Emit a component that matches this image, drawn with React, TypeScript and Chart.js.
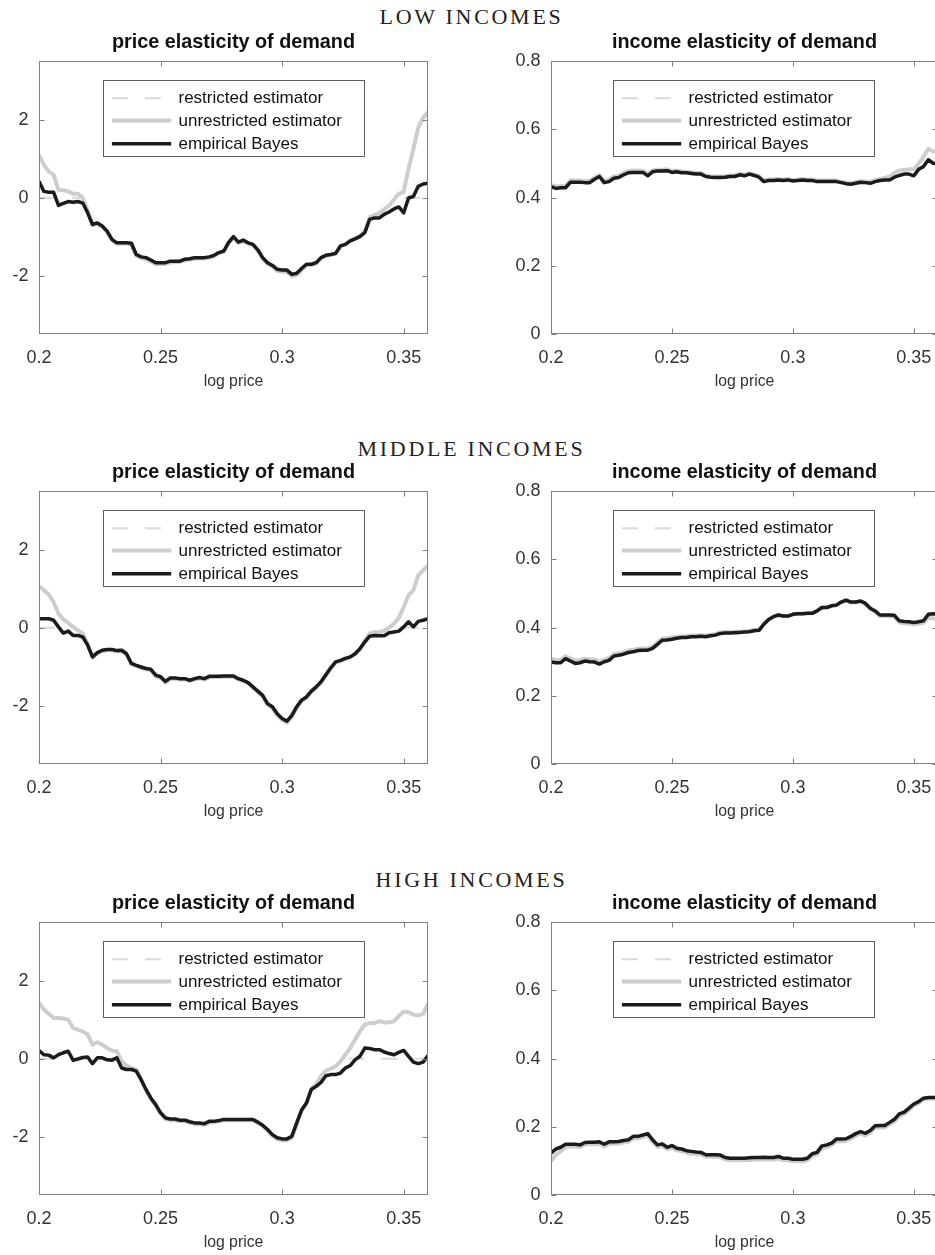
import { useEffect, useRef } from "react";
import { Chart, registerables } from "chart.js";

Chart.register(...registerables);

// ---------- data ----------
const LOG_PRICE = [
  0.2, 0.202, 0.204, 0.206, 0.208, 0.21, 0.212, 0.214, 0.216, 0.218,
  0.22, 0.222, 0.224, 0.226, 0.228, 0.23, 0.232, 0.234, 0.236, 0.238,
  0.24, 0.242, 0.244, 0.246, 0.248, 0.25, 0.252, 0.254, 0.256, 0.258,
  0.26, 0.262, 0.264, 0.266, 0.268, 0.27, 0.272, 0.274, 0.276, 0.278,
  0.28, 0.282, 0.284, 0.286, 0.288, 0.29, 0.292, 0.294, 0.296, 0.298,
  0.3, 0.302, 0.304, 0.306, 0.308, 0.31, 0.312, 0.314, 0.316, 0.318,
  0.32, 0.322, 0.324, 0.326, 0.328, 0.33, 0.332, 0.334, 0.336, 0.338,
  0.34, 0.342, 0.344, 0.346, 0.348, 0.35, 0.352, 0.354, 0.356, 0.358,
  0.36,
];

// restricted estimator of price elasticity (negativity imposed)
const LOW_PRICE_RESTR = [
  0, 0, 0, 0, 0, 0, 0, 0, 0, -0.01,
  -0.32, -0.7, -0.67, -0.75, -0.88, -1.09, -1.18, -1.18, -1.18, -1.2,
  -1.49, -1.55, -1.58, -1.64, -1.71, -1.71, -1.7, -1.66, -1.66, -1.65,
  -1.61, -1.59, -1.57, -1.56, -1.56, -1.54, -1.5, -1.43, -1.39, -1.17,
  -1.02, -1.16, -1.11, -1.18, -1.22, -1.36, -1.57, -1.7, -1.77, -1.88,
  -1.9, -1.91, -2.02, -1.99, -1.86, -1.74, -1.73, -1.69, -1.56, -1.5,
  -1.47, -1.44, -1.25, -1.2, -1.11, -1.05, -0.98, -0.88, -0.5, -0.45,
  -0.4, -0.3, -0.2, -0.05, 0, 0, 0, 0, 0, 0,
  0,
];
const LOW_PRICE_UNR = [
  1.1, 0.84, 0.67, 0.59, 0.2, 0.19, 0.16, 0.1, 0.1, -0.01,
  -0.32, -0.7, -0.67, -0.75, -0.88, -1.09, -1.18, -1.18, -1.18, -1.2,
  -1.49, -1.55, -1.58, -1.64, -1.71, -1.71, -1.7, -1.66, -1.66, -1.65,
  -1.61, -1.59, -1.57, -1.56, -1.56, -1.54, -1.5, -1.43, -1.39, -1.17,
  -1.02, -1.16, -1.11, -1.18, -1.22, -1.36, -1.57, -1.7, -1.77, -1.88,
  -1.9, -1.91, -2.02, -1.99, -1.86, -1.74, -1.73, -1.69, -1.56, -1.5,
  -1.47, -1.44, -1.25, -1.2, -1.11, -1.05, -0.98, -0.88, -0.5, -0.45,
  -0.4, -0.3, -0.2, -0.05, 0.1, 0.15, 0.75, 1.25, 1.8, 2.05,
  2.2,
];
const LOW_PRICE_EB = [
  0.42, 0.16, 0.14, 0.14, -0.2, -0.15, -0.1, -0.12, -0.1, -0.14,
  -0.39, -0.69, -0.65, -0.73, -0.86, -1.07, -1.16, -1.16, -1.16, -1.17,
  -1.46, -1.52, -1.54, -1.6, -1.67, -1.67, -1.67, -1.63, -1.63, -1.63,
  -1.58, -1.57, -1.54, -1.54, -1.54, -1.52, -1.48, -1.41, -1.37, -1.15,
  -1.0, -1.14, -1.09, -1.16, -1.2, -1.34, -1.54, -1.67, -1.74, -1.84,
  -1.86, -1.86, -1.97, -1.94, -1.82, -1.71, -1.71, -1.67, -1.54, -1.48,
  -1.46, -1.43, -1.24, -1.2, -1.11, -1.06, -1.0, -0.9, -0.56, -0.52,
  -0.52, -0.43, -0.37, -0.29, -0.24, -0.39, -0.01, 0.03, 0.29, 0.35,
  0.37,
];

const LOW_INCOME_UNR = [
  0.437, 0.433, 0.434, 0.435, 0.45, 0.45, 0.45, 0.449, 0.449, 0.459,
  0.466, 0.449, 0.452, 0.462, 0.464, 0.472, 0.478, 0.479, 0.479, 0.479,
  0.469, 0.48, 0.482, 0.482, 0.483, 0.478, 0.48, 0.477, 0.476, 0.474,
  0.472, 0.472, 0.465, 0.463, 0.462, 0.462, 0.463, 0.465, 0.465, 0.47,
  0.467, 0.472, 0.468, 0.463, 0.45, 0.453, 0.453, 0.455, 0.453, 0.455,
  0.452, 0.453, 0.455, 0.453, 0.453, 0.45, 0.45, 0.45, 0.45, 0.45,
  0.447, 0.444, 0.442, 0.445, 0.448, 0.447, 0.446, 0.451, 0.455, 0.458,
  0.462, 0.473, 0.479, 0.481, 0.483, 0.483, 0.5, 0.52, 0.543, 0.535,
  0.535,
];
const LOW_INCOME_EB = [
  0.432, 0.427, 0.429, 0.429, 0.445, 0.445, 0.445, 0.444, 0.444, 0.454,
  0.462, 0.444, 0.447, 0.457, 0.459, 0.467, 0.473, 0.474, 0.474, 0.474,
  0.464, 0.476, 0.478, 0.478, 0.479, 0.474, 0.476, 0.473, 0.473, 0.471,
  0.469, 0.469, 0.462, 0.46, 0.459, 0.459, 0.46, 0.462, 0.462, 0.467,
  0.464, 0.469, 0.465, 0.46, 0.447, 0.45, 0.45, 0.452, 0.45, 0.452,
  0.449, 0.45, 0.452, 0.45, 0.45, 0.447, 0.447, 0.447, 0.447, 0.447,
  0.444, 0.441, 0.439, 0.442, 0.445, 0.444, 0.442, 0.447, 0.45, 0.452,
  0.452, 0.46, 0.465, 0.469, 0.469, 0.464, 0.483, 0.491, 0.511, 0.501,
  0.499,
];

const MIDDLE_PRICE_RESTR = [
  0, 0, 0, 0, 0, 0, 0, 0, -0.07, -0.15,
  -0.41, -0.77, -0.66, -0.6, -0.58, -0.58, -0.61, -0.6, -0.69, -0.94,
  -0.99, -1.03, -1.07, -1.09, -1.25, -1.29, -1.41, -1.32, -1.31, -1.33,
  -1.33, -1.37, -1.33, -1.3, -1.33, -1.27, -1.27, -1.27, -1.26, -1.26,
  -1.26, -1.33, -1.37, -1.43, -1.54, -1.66, -1.77, -1.98, -2.06, -2.25,
  -2.37, -2.44, -2.29, -2.06, -1.89, -1.8, -1.65, -1.54, -1.41, -1.23,
  -1.05, -0.9, -0.86, -0.81, -0.77, -0.69, -0.56, -0.33, -0.15, -0.12,
  -0.12, -0.08, 0, 0, 0, 0, 0, 0, 0, 0,
  0,
];
const MIDDLE_PRICE_UNR = [
  1.07, 0.96, 0.85, 0.66, 0.36, 0.21, 0.12, 0.02, -0.07, -0.15,
  -0.41, -0.77, -0.66, -0.6, -0.58, -0.58, -0.61, -0.6, -0.69, -0.94,
  -0.99, -1.03, -1.07, -1.09, -1.25, -1.29, -1.41, -1.32, -1.31, -1.33,
  -1.33, -1.37, -1.33, -1.3, -1.33, -1.27, -1.27, -1.27, -1.26, -1.26,
  -1.26, -1.33, -1.37, -1.43, -1.54, -1.66, -1.77, -1.98, -2.06, -2.25,
  -2.37, -2.44, -2.29, -2.06, -1.89, -1.8, -1.65, -1.54, -1.41, -1.23,
  -1.05, -0.9, -0.86, -0.81, -0.77, -0.69, -0.56, -0.33, -0.15, -0.12,
  -0.12, -0.08, 0.0, 0.1, 0.25, 0.53, 0.83, 0.96, 1.34, 1.47,
  1.6,
];
const MIDDLE_PRICE_EB = [
  0.23, 0.23, 0.23, 0.19, 0.02, -0.14, -0.09, -0.2, -0.2, -0.24,
  -0.45, -0.75, -0.64, -0.58, -0.56, -0.56, -0.59, -0.58, -0.67, -0.92,
  -0.97, -1.01, -1.05, -1.07, -1.22, -1.26, -1.38, -1.29, -1.29, -1.31,
  -1.31, -1.35, -1.31, -1.28, -1.31, -1.25, -1.25, -1.25, -1.24, -1.24,
  -1.24, -1.31, -1.35, -1.41, -1.52, -1.63, -1.74, -1.95, -2.03, -2.21,
  -2.33, -2.4, -2.25, -2.03, -1.86, -1.78, -1.63, -1.52, -1.39, -1.21,
  -1.03, -0.88, -0.84, -0.79, -0.75, -0.67, -0.54, -0.37, -0.22, -0.2,
  -0.21, -0.21, -0.13, -0.11, -0.09, 0.02, 0.15, 0.02, 0.16, 0.19,
  0.23,
];

const MIDDLE_INCOME_UNR = [
  0.309, 0.305, 0.306, 0.316, 0.31, 0.303, 0.305, 0.309, 0.307, 0.306,
  0.3, 0.306, 0.311, 0.323, 0.325, 0.328, 0.333, 0.335, 0.338, 0.339,
  0.339, 0.344, 0.356, 0.368, 0.369, 0.371, 0.373, 0.375, 0.375, 0.377,
  0.377, 0.378, 0.377, 0.379, 0.381, 0.386, 0.387, 0.387, 0.388, 0.389,
  0.389, 0.39, 0.393, 0.394, 0.411, 0.425, 0.433, 0.437, 0.434, 0.434,
  0.439, 0.441, 0.441, 0.442, 0.442, 0.449, 0.459, 0.459, 0.464, 0.466,
  0.475, 0.48, 0.474, 0.474, 0.477, 0.47, 0.455, 0.447, 0.434, 0.434,
  0.433, 0.432, 0.416, 0.413, 0.411, 0.41, 0.411, 0.414, 0.43, 0.427,
  0.426,
];
const MIDDLE_INCOME_EB = [
  0.299, 0.297, 0.297, 0.309, 0.302, 0.295, 0.297, 0.302, 0.3, 0.299,
  0.293, 0.3, 0.304, 0.317, 0.319, 0.322, 0.327, 0.329, 0.333, 0.334,
  0.334, 0.339, 0.351, 0.363, 0.364, 0.366, 0.369, 0.371, 0.371, 0.373,
  0.373, 0.375, 0.373, 0.376, 0.378, 0.383, 0.384, 0.384, 0.385, 0.386,
  0.387, 0.388, 0.391, 0.392, 0.41, 0.424, 0.432, 0.437, 0.434, 0.434,
  0.439, 0.441, 0.441, 0.442, 0.442, 0.449, 0.459, 0.459, 0.464, 0.466,
  0.475, 0.481, 0.475, 0.475, 0.478, 0.471, 0.457, 0.449, 0.437, 0.437,
  0.437, 0.436, 0.42, 0.418, 0.417, 0.415, 0.417, 0.42, 0.439, 0.441,
  0.439,
];

const HIGH_PRICE_RESTR = [
  0, 0, 0, 0, 0, 0, 0, 0, 0, 0,
  0, 0, 0, 0, 0, 0, 0, -0.07, -0.18, -0.24,
  -0.28, -0.52, -0.81, -1.03, -1.2, -1.41, -1.55, -1.58, -1.58, -1.61,
  -1.61, -1.65, -1.68, -1.68, -1.7, -1.64, -1.63, -1.61, -1.58, -1.58,
  -1.58, -1.58, -1.58, -1.58, -1.58, -1.65, -1.73, -1.85, -1.98, -2.07,
  -2.1, -2.1, -2.03, -1.68, -1.34, -1.15, -0.78, -0.66, -0.45, -0.31,
  -0.26, -0.2, -0.07, 0, 0, 0, 0, 0, 0, 0,
  0, 0, 0, 0, 0, 0, 0, 0, 0, 0,
  0,
];
const HIGH_PRICE_UNR = [
  1.44, 1.26, 1.15, 1.04, 1.04, 1.03, 1.0, 0.79, 0.74, 0.7,
  0.62, 0.36, 0.42, 0.36, 0.27, 0.21, 0.19, -0.07, -0.18, -0.24,
  -0.28, -0.52, -0.81, -1.03, -1.2, -1.41, -1.55, -1.58, -1.58, -1.61,
  -1.61, -1.65, -1.68, -1.68, -1.7, -1.64, -1.63, -1.61, -1.58, -1.58,
  -1.58, -1.58, -1.58, -1.58, -1.58, -1.65, -1.73, -1.85, -1.98, -2.07,
  -2.1, -2.1, -2.03, -1.68, -1.34, -1.15, -0.78, -0.66, -0.45, -0.31,
  -0.26, -0.2, -0.07, 0.1, 0.27, 0.49, 0.7, 0.87, 0.91, 0.91,
  0.96, 0.93, 0.93, 0.96, 1.09, 1.21, 1.19, 1.13, 1.11, 1.15,
  1.41,
];
const HIGH_PRICE_EB = [
  0.21, 0.1, 0.09, 0.02, 0.1, 0.15, 0.19, -0.04, -0.01, 0.03,
  0.04, -0.13, 0.02, 0.02, -0.03, -0.04, 0.02, -0.24, -0.28, -0.28,
  -0.32, -0.54, -0.79, -1.01, -1.18, -1.39, -1.52, -1.55, -1.55, -1.58,
  -1.58, -1.62, -1.65, -1.65, -1.67, -1.61, -1.61, -1.59, -1.56, -1.56,
  -1.56, -1.56, -1.56, -1.56, -1.56, -1.63, -1.71, -1.82, -1.95, -2.03,
  -2.06, -2.06, -1.99, -1.65, -1.32, -1.14, -0.79, -0.71, -0.61, -0.44,
  -0.41, -0.41, -0.37, -0.24, -0.18, -0.03, 0.06, 0.27, 0.26, 0.23,
  0.23, 0.17, 0.13, 0.1, 0.16, 0.21, 0.06, -0.09, -0.13, -0.09,
  0.08,
];

const HIGH_INCOME_UNR = [
  0.099, 0.118, 0.128, 0.141, 0.142, 0.143, 0.141, 0.148, 0.149, 0.149,
  0.15, 0.143, 0.15, 0.15, 0.151, 0.154, 0.156, 0.166, 0.166, 0.17,
  0.174, 0.156, 0.141, 0.144, 0.134, 0.139, 0.131, 0.129, 0.124, 0.122,
  0.12, 0.119, 0.112, 0.112, 0.112, 0.111, 0.104, 0.102, 0.102, 0.102,
  0.102, 0.103, 0.104, 0.104, 0.105, 0.104, 0.104, 0.107, 0.102, 0.102,
  0.099, 0.099, 0.099, 0.102, 0.115, 0.119, 0.138, 0.141, 0.146, 0.158,
  0.158, 0.159, 0.166, 0.174, 0.18, 0.175, 0.183, 0.197, 0.198, 0.198,
  0.207, 0.216, 0.232, 0.238, 0.25, 0.262, 0.27, 0.28, 0.283, 0.283,
  0.283,
];
const HIGH_INCOME_EB = [
  0.123, 0.135, 0.14, 0.149, 0.149, 0.149, 0.147, 0.154, 0.155, 0.155,
  0.156, 0.149, 0.156, 0.156, 0.157, 0.16, 0.162, 0.172, 0.172, 0.176,
  0.18, 0.162, 0.147, 0.15, 0.14, 0.145, 0.137, 0.135, 0.13, 0.128,
  0.126, 0.125, 0.118, 0.118, 0.118, 0.117, 0.11, 0.108, 0.108, 0.108,
  0.108, 0.109, 0.11, 0.11, 0.111, 0.11, 0.11, 0.113, 0.108, 0.108,
  0.105, 0.105, 0.105, 0.108, 0.121, 0.125, 0.144, 0.147, 0.152, 0.164,
  0.164, 0.165, 0.172, 0.18, 0.186, 0.181, 0.189, 0.203, 0.204, 0.204,
  0.213, 0.222, 0.238, 0.243, 0.255, 0.267, 0.274, 0.284, 0.286, 0.286,
  0.286,
];

const X_TICKS = [0.2, 0.25, 0.3, 0.35];
const X_TICK_LABELS = ["0.2", "0.25", "0.3", "0.35"];
const PRICE_Y_TICKS = [-2, 0, 2];
const PRICE_Y_TICK_LABELS = ["-2", "0", "2"];
const INCOME_Y_TICKS = [0, 0.2, 0.4, 0.6, 0.8];
const INCOME_Y_TICK_LABELS = ["0", "0.2", "0.4", "0.6", "0.8"];

const ROW_TITLES = ["LOW INCOMES", "MIDDLE INCOMES", "HIGH INCOMES"];
const PANEL_TITLES = ["price elasticity of demand", "income elasticity of demand"];
const LEGEND_LABELS = ["restricted estimator", "unrestricted estimator", "empirical Bayes"];
const X_TITLE = "log price";

// ---------- styles ----------
const SANS = "'Liberation Sans', Arial, Helvetica, sans-serif";
const SERIF = "'Liberation Serif', 'Times New Roman', serif";
const AXIS_COLOR = "#808080";
const TICK_COLOR = "#333333";
const TITLE_COLOR = "#111111";
const LEGEND_EDGE = "#5e5e5e";
const RESTR_COLOR = "#d9d9d9";
const UNR_COLOR = "#cdcdcd";
const EB_COLOR = "#1b1b1b";
const RESTR_DASH = [16, 17];

type PanelProps = {
  left: number;
  top: number;
  width: number;
  height: number;
  side: number;
  title: string;
  yMin: number;
  yMax: number;
  yTicks: number[];
  yLabels: string[];
  restricted: number[];
  unrestricted: number[];
  eb: number[];
  legendDx: number;
};

function Panel(p: PanelProps) {
  const ref = useRef<HTMLCanvasElement | null>(null);

  useEffect(() => {
    const canvas = ref.current;
    if (!canvas) return;
    const pts = (ys: number[]) => LOG_PRICE.map((x, i) => ({ x, y: ys[i] }));

    const framePlugin = {
      id: "frameAndLegend",
      afterDatasetsDraw(chart: any) {
        const { ctx, chartArea: ca } = chart;
        const xs = chart.scales.x;
        const ys = chart.scales.y;
        const L = Math.round(ca.left) + 0.5;
        const R = Math.round(ca.right) - 0.5;
        const T = Math.round(ca.top) + 0.5;
        const B = Math.round(ca.bottom) - 0.5;
        const tl = 5;
        ctx.save();
        ctx.strokeStyle = AXIS_COLOR;
        ctx.lineWidth = 1;
        ctx.setLineDash([]);
        ctx.strokeRect(L, T, R - L, B - T);
        ctx.beginPath();
        X_TICKS.forEach((v) => {
          const px = Math.round(xs.getPixelForValue(v)) + 0.5;
          ctx.moveTo(px, B);
          ctx.lineTo(px, B - tl);
          ctx.moveTo(px, T);
          ctx.lineTo(px, T + tl);
        });
        p.yTicks.forEach((v) => {
          const py = Math.round(ys.getPixelForValue(v)) + 0.5;
          ctx.moveTo(L, py);
          ctx.lineTo(L + tl, py);
          ctx.moveTo(R, py);
          ctx.lineTo(R - tl, py);
        });
        ctx.stroke();

        // legend box
        const bx = Math.round(ca.left + p.legendDx) + 0.5;
        const by = Math.round(ca.top + 18.7) + 0.5;
        const bw = 261;
        const bh = 76;
        ctx.fillStyle = "#ffffff";
        ctx.fillRect(bx, by, bw, bh);
        ctx.strokeStyle = LEGEND_EDGE;
        ctx.lineWidth = 1;
        ctx.strokeRect(bx, by, bw, bh);
        const rows = [17.7, 40, 63.3];
        const dsets = chart.data.datasets;
        ctx.font = `17px ${SANS}`;
        ctx.textBaseline = "middle";
        ctx.textAlign = "left";
        rows.forEach((ry, i) => {
          const d = dsets[i];
          const yy = by + ry;
          ctx.beginPath();
          ctx.strokeStyle = d.borderColor;
          ctx.lineWidth = d.borderWidth;
          ctx.setLineDash(d.borderDash || []);
          ctx.moveTo(bx + 8.4, yy);
          ctx.lineTo(bx + 67.7, yy);
          ctx.stroke();
          ctx.setLineDash([]);
          ctx.fillStyle = "#111111";
          ctx.fillText(d.label, bx + 75, yy + 0.5);
        });
        ctx.restore();
      },
    };

    const tickCb = (ticks: number[], labels: string[]) => (value: any) => {
      const i = ticks.findIndex((t) => Math.abs(t - Number(value)) < 1e-9);
      return i >= 0 ? labels[i] : "";
    };

    const chart = new Chart(canvas, {
      type: "line",
      data: {
        datasets: [
          {
            label: LEGEND_LABELS[0],
            data: pts(p.restricted),
            borderColor: RESTR_COLOR,
            borderWidth: 2,
            borderDash: RESTR_DASH,
            order: 3,
          },
          {
            label: LEGEND_LABELS[1],
            data: pts(p.unrestricted),
            borderColor: UNR_COLOR,
            borderWidth: 4,
            order: 2,
          },
          {
            label: LEGEND_LABELS[2],
            data: pts(p.eb),
            borderColor: EB_COLOR,
            borderWidth: 3.5,
            order: 1,
          },
        ],
      },
      options: {
        responsive: false,
        animation: false,
        devicePixelRatio: 1,
        events: [],
        layout: { padding: 0 },
        elements: {
          point: { radius: 0, hoverRadius: 0 },
          line: { tension: 0, borderJoinStyle: "round", borderCapStyle: "butt", fill: false },
        },
        plugins: {
          legend: { display: false },
          tooltip: { enabled: false },
          title: {
            display: true,
            text: p.title,
            color: TITLE_COLOR,
            font: { family: SANS, size: 19.8, weight: "bold", lineHeight: 1.2 },
            padding: { top: 10.5, bottom: 7 },
          },
        },
        scales: {
          x: {
            type: "linear",
            min: 0.2,
            max: 0.36,
            afterBuildTicks: (s: any) => {
              s.ticks = X_TICKS.map((v) => ({ value: v }));
            },
            afterFit: (s: any) => {
              s.height = 60;
            },
            grid: { display: false, drawTicks: false },
            border: { display: false },
            ticks: {
              callback: tickCb(X_TICKS, X_TICK_LABELS),
              color: TICK_COLOR,
              font: { family: SANS, size: 18 },
              padding: 13,
              autoSkip: false,
              maxRotation: 0,
              minRotation: 0,
            },
            title: {
              display: true,
              text: X_TITLE,
              color: TICK_COLOR,
              font: { family: SANS, size: 15.8 },
              padding: { top: 0, bottom: 3 },
            },
          },
          y: {
            type: "linear",
            position: "left",
            min: p.yMin,
            max: p.yMax,
            afterBuildTicks: (s: any) => {
              s.ticks = p.yTicks.map((v) => ({ value: v }));
            },
            afterFit: (s: any) => {
              s.width = p.side;
            },
            grid: { display: false, drawTicks: false },
            border: { display: false },
            ticks: {
              callback: tickCb(p.yTicks, p.yLabels),
              color: TICK_COLOR,
              font: { family: SANS, size: 18 },
              padding: 10.5,
              autoSkip: false,
            },
          },
          yR: {
            type: "linear",
            position: "right",
            min: 0,
            max: 1,
            afterFit: (s: any) => {
              s.width = p.side;
            },
            grid: { display: false, drawTicks: false },
            border: { display: false },
            ticks: { display: false },
          },
        },
      } as any,
      plugins: [framePlugin],
    });
    return () => chart.destroy();
  }, []);

  return (
    <canvas
      ref={ref}
      width={p.width}
      height={p.height}
      style={{
        position: "absolute",
        left: p.left,
        top: p.top,
        width: p.width,
        height: p.height,
        display: "block",
      }}
    />
  );
}

const ROWS = [
  { priceR: LOW_PRICE_RESTR, priceU: LOW_PRICE_UNR, priceEB: LOW_PRICE_EB, incU: LOW_INCOME_UNR, incEB: LOW_INCOME_EB },
  { priceR: MIDDLE_PRICE_RESTR, priceU: MIDDLE_PRICE_UNR, priceEB: MIDDLE_PRICE_EB, incU: MIDDLE_INCOME_UNR, incEB: MIDDLE_INCOME_EB },
  { priceR: HIGH_PRICE_RESTR, priceU: HIGH_PRICE_UNR, priceEB: HIGH_PRICE_EB, incU: HIGH_INCOME_UNR, incEB: HIGH_INCOME_EB },
];
const CANVAS_TOPS = [20, 450, 881];
const ROW_TITLE_TOPS = [5.6, 438.1, 868.6];

export default function App() {
  return (
    <div
      style={{
        position: "absolute",
        left: 0,
        top: 0,
        width: 935,
        height: 1255,
        overflow: "hidden",
        background: "#ffffff",
      }}
    >
      {ROW_TITLES.map((t, i) => (
        <div
          key={t}
          style={{
            position: "absolute",
            left: 1,
            top: ROW_TITLE_TOPS[i],
            width: 941,
            textAlign: "center",
            fontFamily: SERIF,
            fontSize: 22,
            lineHeight: "22px",
            letterSpacing: "2.7px",
            color: "#222222",
            whiteSpace: "nowrap",
          }}
        >
          {t}
        </div>
      ))}
      {ROWS.map((r, i) => (
        <Panel
          key={"p" + i}
          left={0}
          top={CANVAS_TOPS[i]}
          width={467}
          height={374}
          side={39}
          title={PANEL_TITLES[0]}
          yMin={-3.5}
          yMax={3.5}
          yTicks={PRICE_Y_TICKS}
          yLabels={PRICE_Y_TICK_LABELS}
          restricted={r.priceR}
          unrestricted={r.priceU}
          eb={r.priceEB}
          legendDx={64.3}
        />
      ))}
      {ROWS.map((r, i) => (
        <Panel
          key={"i" + i}
          left={506}
          top={CANVAS_TOPS[i]}
          width={477}
          height={374}
          side={45}
          title={PANEL_TITLES[1]}
          yMin={0}
          yMax={0.8}
          yTicks={INCOME_Y_TICKS}
          yLabels={INCOME_Y_TICK_LABELS}
          restricted={r.incU}
          unrestricted={r.incU}
          eb={r.incEB}
          legendDx={62}
        />
      ))}
    </div>
  );
}
